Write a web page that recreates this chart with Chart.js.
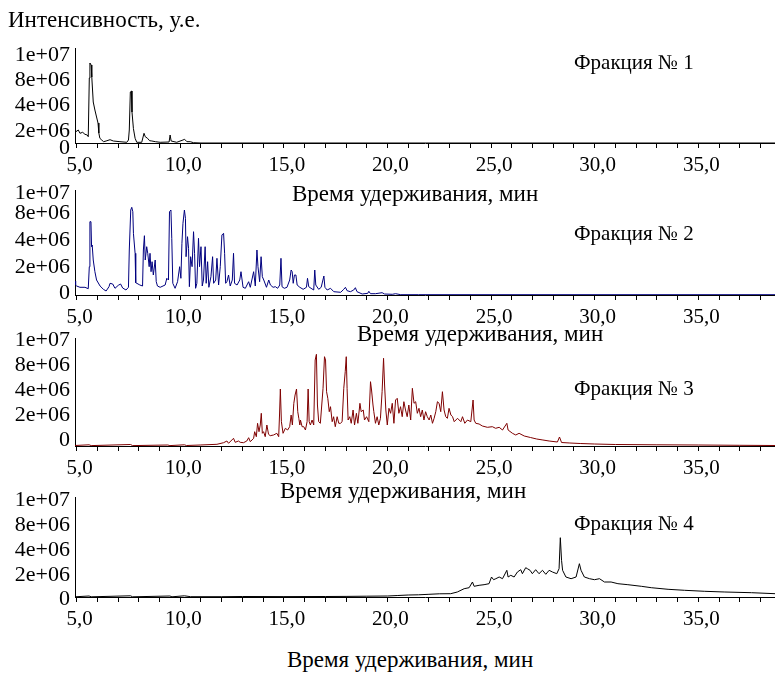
<!DOCTYPE html>
<html>
<head>
<meta charset="utf-8">
<script src="https://cdn.jsdelivr.net/npm/chart.js@4"></script>
<style>
    body { margin: 0; background: #fff; }
    #page { position: relative; width: 775px; height: 673px; overflow: hidden; background: #fff; }
    canvas { position: absolute; left: 0; }
    .txt {
        position: absolute;
        font-family: "Liberation Serif", "Times New Roman", serif;
        font-size: 23px;
        line-height: 23px;
        white-space: nowrap;
        color: #000;
        z-index: 2;
    }
    .frac { font-size: 21px; line-height: 21px; }
</style>
</head>
<body>
<div id="page">
    <div class="txt" style="left:8px; top:8px;">Интенсивность, у.е.</div>

    <canvas id="chart1" width="775" height="153" style="top:25px"></canvas>
    <canvas id="chart2" width="775" height="163" style="top:167px"></canvas>
    <canvas id="chart3" width="775" height="166" style="top:315px"></canvas>
    <canvas id="chart4" width="775" height="158" style="top:474px"></canvas>

    <div class="txt frac" style="left:574px; top:52px;">Фракция № 1</div>
    <div class="txt frac" style="left:574px; top:223px;">Фракция № 2</div>
    <div class="txt frac" style="left:574px; top:378px;">Фракция № 3</div>
    <div class="txt frac" style="left:574px; top:513px;">Фракция № 4</div>

    <div class="txt" style="left:292px; top:182px;">Время удерживания, мин</div>
    <div class="txt" style="left:357px; top:322px;">Время удерживания, мин</div>
    <div class="txt" style="left:280px; top:479px;">Время удерживания, мин</div>
    <div class="txt" style="left:287px; top:648px;">Время удерживания, мин</div>
</div>

<script>
// ==========================================================
// DATA  (time in min, intensity in units of 1e6)
// ==========================================================
const yTickLabels = ['0', '2e+06', '4e+06', '8e+06', '1e+07'];
const xTickValues = [5, 6, 7, 8, 9, 10, 11, 12, 13, 14, 15, 16, 17, 18, 19, 20, 21,
    22, 23, 24, 25, 26, 27, 28, 29, 30, 31, 32, 33, 34, 35, 36, 37, 38];

// where each tick label sits on the (uneven) intensity axis of each panel
const yTickPos1 = [-0.5, 1.2, 3.8, 6.3, 8.8];
const yTickPos2 = [0.2, 2.8, 5.5, 8.2, 10.2];
const yTickPos3 = [0.6, 3.1, 5.6, 8.1, 10.6];
const yTickPos4 = [-0.2, 2.2, 4.7, 7.2, 9.7];

// Fraction 1
const fr1Time = [4.92, 5.08, 5.16, 5.29, 5.40, 5.51, 5.56, 5.61, 5.64, 5.70, 5.73, 5.80, 5.88, 5.96,
    6.03, 6.07, 6.12, 6.21, 6.30, 6.42, 6.61, 6.77, 7.09, 7.42, 7.50, 7.54, 7.59, 7.64, 7.67, 7.74,
    7.82, 7.90, 8.14, 8.25, 8.31, 8.42, 8.52, 8.63, 8.80, 9.03, 9.46, 9.51, 9.56, 9.83, 10.13, 10.21,
    10.32, 10.48, 10.64, 11.0, 38.7];
const fr1Int = [1.07, 1.3, 0.97, 1.07, 0.87, 0.8, 0.63, 6.5, 8.0, 7.8, 6.6, 4.1, 3.3, 2.6,
    2.0, 1.0, 0.47, 0.3, 0.13, 0.2, 0.33, 0.2, 0.13, 0.07, 0.3, 1.3, 5.1, 5.2, 3.1, 1.43,
    0.47, 0.07, 0.07, 0.97, 0.63, 0.47, 0.23, 0.2, 0.13, 0.07, 0.1, 0.8, 0.2, 0.07, 0.3, 0.37,
    0.13, 0.13, 0.03, 0.0, 0.0];

// Fraction 2
const fr2Time = [4.92, 4.95, 5.0, 5.16, 5.4, 5.56, 5.61, 5.64, 5.69, 5.72, 5.75, 5.8, 5.88, 5.96,
    6.13, 6.29, 6.42, 6.56, 6.61, 6.74, 6.85, 7.01, 7.12, 7.22, 7.38, 7.5, 7.54, 7.61, 7.66, 7.71,
    7.74, 7.82, 7.85, 8.05, 8.18, 8.22, 8.27, 8.31, 8.38, 8.43, 8.5, 8.54, 8.59, 8.64, 8.7, 8.79,
    8.84, 8.9, 9.03, 9.27, 9.35, 9.43, 9.48, 9.55, 9.59, 9.64, 9.75, 9.87, 9.97, 10.03, 10.08, 10.13,
    10.2, 10.25, 10.28, 10.35, 10.4, 10.44, 10.5, 10.57, 10.64, 10.69, 10.74, 10.8, 10.88, 10.93,
    11.0, 11.06, 11.12, 11.2, 11.25, 11.32, 11.38, 11.48, 11.56, 11.61, 11.71, 11.77, 11.85, 11.93,
    12.01, 12.09, 12.14, 12.19, 12.25, 12.33, 12.41, 12.51, 12.57, 12.62, 12.74, 12.87, 12.93, 13.03,
    13.14, 13.3, 13.38, 13.54, 13.62, 13.7, 13.75, 13.83, 13.9, 13.96, 14.03, 14.16, 14.27, 14.35,
    14.48, 14.59, 14.7, 14.8, 14.86, 14.91, 15.02, 15.15, 15.28, 15.35, 15.4, 15.45, 15.51, 15.58,
    15.64, 15.77, 15.93, 16.09, 16.14, 16.2, 16.31, 16.44, 16.49, 16.54, 16.68, 16.8, 16.93, 16.98,
    17.09, 17.25, 17.41, 17.74, 17.89, 17.97, 18.05, 18.21, 18.37, 18.45, 18.53, 18.78, 19.05, 19.1,
    19.18, 19.42, 19.74, 19.86, 20.23, 20.39, 20.64, 21.5, 38.7];
const fr2Int = [1.4, 1.0, 0.9, 0.77, 0.77, 0.63, 2.83, 7.33, 7.33, 4.83, 5.0, 3.5, 2.33, 1.5,
    0.9, 0.57, 0.4, 0.83, 1.17, 1.1, 0.67, 0.97, 1.1, 0.7, 0.5, 0.77, 4.5, 8.5, 8.77, 8.33,
    6.17, 4.17, 1.23, 1.0, 0.9, 4.5, 5.93, 3.5, 4.83, 4.17, 2.83, 4.17, 2.33, 3.33, 2.0, 3.5,
    1.33, 0.9, 0.77, 1.0, 1.67, 1.5, 8.33, 8.5, 5.67, 1.17, 0.67, 1.33, 2.83, 1.67, 5.17, 7.17,
    8.5, 7.67, 3.83, 5.83, 4.67, 0.83, 3.83, 2.83, 6.33, 4.17, 0.67, 1.17, 5.67, 2.83,
    4.83, 0.9, 1.5, 4.83, 1.17, 3.33, 0.77, 1.83, 3.83, 1.17, 1.5, 3.67, 1.0, 2.83,
    6.0, 6.17, 4.17, 1.17, 1.33, 2.0, 0.9, 1.5, 4.17, 1.17, 1.0, 1.5, 2.33, 0.77,
    0.67, 1.33, 0.77, 2.33, 0.9, 4.5, 2.83, 1.33, 3.83, 1.83, 1.5, 0.77, 1.5, 1.0,
    0.77, 0.83, 0.67, 1.0, 3.67, 0.83, 0.67, 0.77, 1.5, 2.5, 2.33, 1.17, 2.0, 2.0,
    1.0, 0.77, 0.57, 0.77, 1.67, 0.83, 0.67, 0.5, 2.5, 1.0, 0.57, 0.77, 1.9, 0.77,
    0.5, 0.67, 0.33, 0.27, 0.57, 0.77, 0.43, 0.33, 0.5, 0.73, 0.33, 0.1, 0.17, 0.37,
    0.13, 0.13, 0.23, 0.1, 0.07, 0.13, 0.03, 0.03, 0.03];

// Fraction 3
const fr3Time = [4.92, 5.6, 5.7, 7.6, 7.7, 9.4, 9.5, 10.2, 10.3, 10.96, 11.77, 12.09, 12.25, 12.33,
    12.57, 12.65, 12.81, 12.89, 13.05, 13.21, 13.3, 13.38, 13.54, 13.59, 13.67, 13.73, 13.8, 13.86,
    13.91, 13.96, 14.02, 14.1, 14.18, 14.26, 14.34, 14.5, 14.66, 14.75, 14.79, 14.83, 14.88, 14.96,
    15.07, 15.18, 15.28, 15.35, 15.41, 15.48, 15.54, 15.61, 15.67, 15.72, 15.77, 15.8, 15.88, 15.96,
    16.04, 16.12, 16.17, 16.22, 16.28, 16.36, 16.44, 16.51, 16.57, 16.62, 16.68, 16.76, 16.89, 16.96,
    17.01, 17.06, 17.12, 17.19, 17.25, 17.33, 17.4, 17.48, 17.57, 17.65, 17.73, 17.81, 17.89, 17.96,
    18.01, 18.05, 18.1, 18.18, 18.25, 18.34, 18.41, 18.5, 18.57, 18.67, 18.73, 18.83, 18.89, 18.99,
    19.1, 19.18, 19.23, 19.3, 19.34, 19.42, 19.5, 19.58, 19.66, 19.74, 19.81, 19.86, 19.92, 19.99,
    20.07, 20.15, 20.23, 20.31, 20.39, 20.47, 20.55, 20.63, 20.71, 20.79, 20.87, 20.95, 21.03, 21.12,
    21.2, 21.28, 21.36, 21.44, 21.52, 21.6, 21.68, 21.76, 21.84, 21.92, 22.01, 22.09, 22.17, 22.25,
    22.33, 22.41, 22.49, 22.57, 22.65, 22.73, 22.81, 22.89, 22.97, 23.06, 23.14, 23.22, 23.3, 23.38,
    23.54, 23.62, 23.73, 23.86, 24.02, 24.13, 24.18, 24.26, 24.42, 24.58, 24.82, 25.06, 25.22, 25.39,
    25.55, 25.76, 25.82, 26.03, 26.19, 26.35, 26.6, 26.9, 27.2, 27.5, 27.8, 28.2, 28.3, 28.4,
    28.8, 29.3, 30.0, 31.0, 33.0, 35.0, 37.0, 38.7];
const fr3Int = [0.05, 0.12, 0.04, 0.15, 0.04, 0.1, 0.04, 0.12, 0.05, 0.1, 0.17, 0.33, 0.5, 0.27,
    0.77, 0.37, 0.5, 0.37, 0.33, 0.5, 0.83, 0.43, 0.77, 1.43, 0.93, 2.27, 1.43, 2.1,
    3.27, 1.27, 1.43, 0.93, 2.1, 1.17, 1.03, 1.1, 1.27, 0.93, 3.1, 5.7, 2.43, 1.27,
    1.77, 1.6, 1.93, 3.1, 2.1, 4.27, 5.1, 5.7, 3.43, 2.77, 2.1, 2.6, 1.93, 1.93,
    1.6, 2.43, 5.7, 2.43, 2.1, 2.6, 2.1, 8.6, 9.17, 4.1, 2.43, 2.27, 5.77, 8.93,
    8.6, 5.43, 4.77, 3.43, 3.93, 2.43, 2.93, 1.93, 2.93, 2.27, 2.27, 2.43, 5.77, 7.43,
    8.93, 5.77, 2.6, 2.93, 2.27, 3.6, 2.1, 3.27, 2.27, 4.27, 3.43, 3.6, 2.6, 2.93,
    2.43, 6.43, 5.6, 4.1, 3.43, 2.27, 2.93, 2.1, 2.77, 5.43, 8.77, 6.1, 3.6, 2.1,
    3.77, 3.27, 4.27, 2.27, 4.6, 4.77, 3.27, 3.93, 2.93, 4.43, 3.6, 2.93, 4.1, 2.6,
    5.77, 4.27, 4.43, 3.27, 3.77, 2.93, 3.6, 2.6, 3.43, 2.93, 2.6, 3.1, 2.27, 2.77,
    3.43, 4.43, 4.27, 3.43, 5.43, 3.6, 2.93, 2.77, 3.77, 3.1, 2.93, 2.43, 2.6, 2.77,
    2.43, 2.93, 2.27, 2.6, 2.43, 4.6, 2.6, 2.27, 2.2, 2.0, 1.87, 1.93, 1.77, 1.87,
    1.6, 2.27, 1.6, 1.27, 1.1, 1.27, 1.0, 0.85, 0.7, 0.6, 0.5, 0.4, 0.9, 0.35,
    0.3, 0.25, 0.2, 0.15, 0.12, 0.1, 0.07, 0.05];

// Fraction 4
const fr4Time = [4.92, 5.6, 5.7, 7.6, 7.7, 9.5, 9.6, 10.2, 10.5, 12.0, 13.0, 15.0, 17.0, 18.0,
    19.0, 20.0, 20.5, 21.0, 21.5, 22.0, 22.5, 23.05, 23.37, 23.7, 23.94, 24.1, 24.18, 24.42,
    24.66, 24.9, 25.02, 25.12, 25.23, 25.39, 25.55, 25.76, 25.82, 25.95, 26.11, 26.27, 26.43, 26.51,
    26.67, 26.75, 26.88, 26.99, 27.15, 27.31, 27.48, 27.64, 27.8, 27.96, 28.17, 28.28, 28.34, 28.4,
    28.45, 28.61, 28.86, 29.1, 29.26, 29.34, 29.5, 29.75, 29.99, 30.23, 30.47, 30.79, 31.12, 31.6,
    32.25, 32.73, 33.54, 34.34, 35.31, 36.28, 37.57, 38.7];
const fr4Int = [0.02, 0.1, 0.02, 0.12, 0.02, 0.1, 0.02, 0.12, 0.03, 0.03, 0.05, 0.04, 0.05, 0.06,
    0.08, 0.1, 0.15, 0.2, 0.22, 0.27, 0.32, 0.33, 0.5, 0.83, 0.93, 1.5, 1.07, 1.17,
    1.23, 1.33, 2.0, 1.73, 1.83, 2.0, 1.83, 2.67, 2.0, 2.17, 2.0, 2.5, 2.73, 2.33,
    2.93, 2.83, 2.67, 2.33, 2.73, 2.33, 2.67, 2.27, 2.67, 2.5, 2.33, 2.83, 5.93, 3.67,
    2.67, 2.0, 1.83, 2.0, 3.33, 2.67, 2.0, 1.83, 1.73, 1.83, 1.5, 1.5, 1.33, 1.23,
    1.07, 0.93, 0.77, 0.67, 0.57, 0.5, 0.43, 0.33];

// ==========================================================
// CHART SETUP
// ==========================================================
const X_MIN = 4.92;
const X_MAX = 38.7;
const Y_AXIS_WIDTH = 75;
const X_AXIS_HEIGHT = 35;
const PAD_TOP = 23;
const SERIF = "'Liberation Serif', 'Times New Roman', serif";

function formatMinutes(v) {
    return v % 5 === 0 ? v.toFixed(1).replace('.', ',') : '';
}

function makeChart(id, times, values, color, yMax, yTickPos) {
    const ctx = document.getElementById(id);
    return new Chart(ctx, {
        type: 'line',
        data: {
            datasets: [{
                data: times.map((t, i) => ({ x: t, y: values[i] })),
                borderColor: color,
                borderWidth: 1,
                pointRadius: 0,
                tension: 0,
                fill: false
            }]
        },
        options: {
            responsive: false,
            animation: false,
            events: [],
            layout: { padding: { top: PAD_TOP, left: 0, right: 0, bottom: 0 } },
            plugins: { legend: { display: false }, tooltip: { enabled: false } },
            scales: {
                x: {
                    type: 'linear',
                    min: X_MIN,
                    max: X_MAX,
                    afterBuildTicks: s => { s.ticks = xTickValues.map(v => ({ value: v })); },
                    afterFit: s => { s.height = X_AXIS_HEIGHT; },
                    grid: { drawOnChartArea: false, drawTicks: true, tickLength: 5, color: '#000' },
                    border: { display: true, color: '#000', width: 1 },
                    ticks: {
                        autoSkip: false, maxRotation: 0, padding: 5, labelOffset: 3,
                        color: '#000', font: { family: SERIF, size: 21 },
                        callback: v => formatMinutes(v)
                    }
                },
                y: {
                    type: 'linear',
                    min: 0,
                    max: yMax,
                    afterBuildTicks: s => { s.ticks = yTickPos.map(v => ({ value: v })); },
                    afterFit: s => { s.width = Y_AXIS_WIDTH; },
                    grid: { display: false, drawTicks: false },
                    border: { display: true, color: '#000', width: 1, dash: [8, 5] },
                    ticks: {
                        autoSkip: false, padding: 5, color: '#000',
                        font: { family: SERIF, size: 22 },
                        callback: (v, i) => yTickLabels[i]
                    }
                }
            }
        }
    });
}

makeChart('chart1', fr1Time, fr1Int, '#000000', 9.5, yTickPos1);
makeChart('chart2', fr2Time, fr2Int, '#00007f', 10.5, yTickPos2);
makeChart('chart3', fr3Time, fr3Int, '#7f0000', 10.8, yTickPos3);
makeChart('chart4', fr4Time, fr4Int, '#000000', 10.0, yTickPos4);
</script>
</body>
</html>
